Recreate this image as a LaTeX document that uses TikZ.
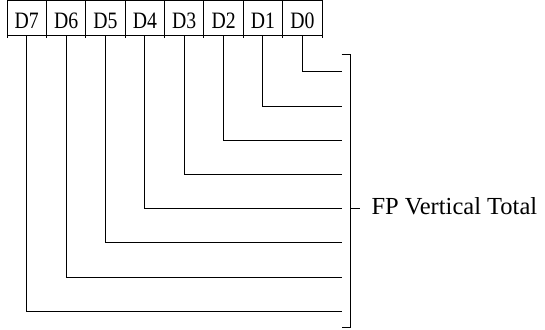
\documentclass[tikz,border=0pt]{standalone}
\usepackage{fontspec}
\setmainfont{Liberation Serif}
\begin{document}
\begin{tikzpicture}[x=1pt,y=-1pt,
  bitbox/.style={draw,line width=1pt,minimum width=39.375pt,minimum height=34.3pt,inner sep=0pt,
    font=\fontsize{23.5}{24}\selectfont,text height=20.2pt,text depth=0pt},
  wire/.style={line width=1pt},
  lbl/.style={font=\fontsize{24.5}{26}\selectfont,inner sep=0pt,anchor=base west}]
\useasboundingbox (0,0) rectangle (545,329);
\foreach \k/\n in {0/7,1/6,2/5,3/4,4/3,5/2,6/1,7/0}{
  \node[bitbox] (b\n) at ({7+39.375*\k+19.6875},18.15) {\scalebox{0.84}[1]{D\n}};
}
% small extensions of the dividers below the boxes
\foreach \k in {0,...,8}{
  \draw[wire] ({7+39.375*\k},35.3) -- ({7+39.375*\k},38);
}
% wire end coordinates
\foreach \n/\y in {0/71.7,1/106,2/140.3,3/174.4,4/208.3,5/242.7,6/277,7/311.7}{
  \coordinate (e\n) at (341.7,\y);
  \draw[wire] (b\n.south) |- (e\n);
}
% bracket
\coordinate (bt) at (350.7,54);
\coordinate (bb) at (350.7,327.7);
\coordinate (bm) at (350.7,208.3);
\coordinate (bmr) at (360,208.3);
\draw[wire] (341.7,54) -- (bt) -- (bb) -- (341.7,327.7);
\draw[wire] (bm) -- (bmr);
\node[lbl] (fp) at (371.3,214.5) {FP Vertical Total};
\end{tikzpicture}
\end{document}
